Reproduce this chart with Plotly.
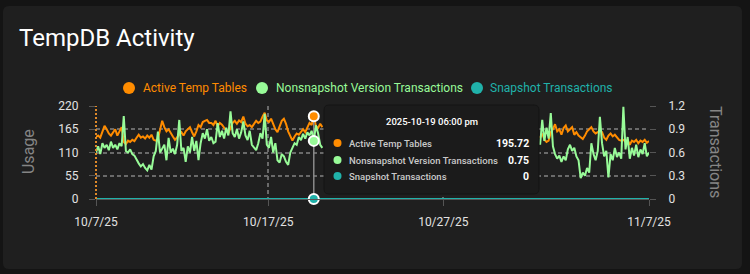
import pandas as pd
import plotly.graph_objects as go

# ---------------- data ----------------
chart_title = "TempDB Activity"
series_names = ["Active Temp Tables", "Nonsnapshot Version Transactions", "Snapshot Transactions"]
series_colors = ["#FF8C00", "#98FB98", "#20B2AA"]
left_axis_title = "Usage"
right_axis_title = "Transactions"

start_time = "2025-10-07 00:00"
step = "3h"
n_points = 260

# Active Temp Tables (Usage) – first visible stretch (10/7 .. 10/20)
active_seg1 = [147, 150, 145, 160, 173, 165, 155, 150, 158, 165,
               150, 160, 170, 135, 130, 138, 135, 140, 137, 145,
               152, 145, 148, 143, 150, 145, 152, 140, 138, 142,
               165, 185, 170, 160, 165, 155, 148, 140, 145, 152,
               158, 150, 160, 165, 170, 158, 148, 160, 175, 170,
               182, 185, 187, 180, 180, 175, 185, 172, 180, 176,
               168, 160, 155, 168, 180, 185, 178, 186, 182, 195,
               178, 172, 175, 170, 178, 185, 180, 183, 195, 204,
               186, 182, 190, 176, 165, 158, 170, 185, 190, 178,
               160, 150, 138, 148, 155, 152, 160, 165, 158, 170,
               180, 175, 195.72, 172, 168, 178, 170]
# hidden behind the tooltip
hidden_len = 101
# second visible stretch (11/1 .. 11/8)
active_seg2 = [145, 155, 140, 135, 138, 158, 165, 177, 160, 165,
               152, 168, 174, 160, 165, 170, 152, 158, 150, 145,
               142, 150, 160, 165, 170, 160, 155, 158, 162, 158,
               145, 140, 150, 155, 148, 152, 145, 140, 138, 140,
               135, 140, 128, 138, 135, 140, 132, 138, 135, 140,
               133, 137]

# Nonsnapshot Version Transactions (Transactions)
nonsnap_seg1 = [0.60, 0.68, 0.58, 0.72, 0.66, 0.70, 0.63, 0.74, 0.66, 0.70,
                0.64, 0.72, 0.68, 1.07, 0.62, 0.60, 0.64, 0.58, 0.56, 0.50,
                0.46, 0.42, 0.45, 0.40, 0.37, 0.44, 0.38, 0.55, 0.62, 0.87,
                0.60, 0.65, 0.70, 0.50, 0.79, 0.60, 0.65, 0.58, 0.70, 1.02,
                0.62, 0.66, 0.48, 0.68, 0.60, 0.80, 0.62, 0.75, 0.50, 0.72,
                0.85, 0.78, 0.90, 0.75, 0.80, 0.72, 0.74, 0.98, 0.80, 0.88,
                0.78, 0.92, 0.82, 1.13, 0.85, 0.80, 0.90, 0.78, 0.86, 1.00,
                0.82, 0.76, 0.88, 0.70, 0.66, 0.63, 0.72, 0.85, 0.78, 1.10,
                0.70, 0.66, 0.80, 0.60, 0.72, 0.50, 0.47, 0.58, 0.55, 0.48,
                0.44, 0.60, 0.66, 0.72, 0.70, 0.80, 0.76, 0.84, 0.78, 0.86,
                0.82, 0.88, 0.75, 0.95, 0.85, 0.70, 0.66]
nonsnap_seg2 = [0.70, 1.02, 0.75, 0.92, 0.78, 1.11, 0.68, 0.58, 0.52, 0.56,
                0.48, 0.55, 0.50, 0.64, 0.70, 0.62, 0.66, 0.55, 0.50, 0.27,
                0.34, 0.30, 0.40, 0.34, 0.72, 0.58, 0.50, 0.62, 1.06, 0.72,
                0.55, 0.62, 0.28, 0.58, 0.50, 0.66, 0.54, 0.60, 0.52, 1.19,
                0.64, 0.80, 0.52, 0.66, 0.56, 0.70, 0.54, 0.64, 0.58, 0.72,
                0.55, 0.60]

snapshot_values = [0] * n_points

hover_index = 102
hover_label = "2025-10-19 06:00 pm"

y_ticks = [0, 55, 110, 165, 220]
y2_ticks = [0, 0.3, 0.6, 0.9, 1.2]
y2_ticktext = ["0", "0.3", "0.6", "0.9", "1.2"]
x_tickvals = ["2025-10-07 00:00", "2025-10-17 02:00", "2025-10-27 08:00", "2025-11-08 09:00"]
x_ticktext = ["10/7/25", "10/17/25", "10/27/25", "11/7/25"]

# ---------------- build ----------------
times = pd.date_range(start_time, periods=n_points, freq=step)
active = active_seg1 + [None] * hidden_len + active_seg2
nonsnap = nonsnap_seg1 + [None] * hidden_len + nonsnap_seg2

W, H = 750, 274
PL, PR, PT, PB = 96, 649, 106, 199
PW, PH = PR - PL, PB - PT


def px(x):
    return (x - PL) / PW


def py(y):
    return (PB - y) / PH


def rrect(x0, y0, x1, y1, r):
    def P(x, y):
        return f"{px(x):.5f},{py(y):.5f}"
    return (f"M {P(x0 + r, y0)} L {P(x1 - r, y0)} Q {P(x1, y0)} {P(x1, y0 + r)} "
            f"L {P(x1, y1 - r)} Q {P(x1, y1)} {P(x1 - r, y1)} L {P(x0 + r, y1)} "
            f"Q {P(x0, y1)} {P(x0, y1 - r)} L {P(x0, y0 + r)} Q {P(x0, y0)} {P(x0 + r, y0)} Z")


fig = go.Figure()
fig.add_trace(go.Scatter(x=times, y=active, mode="lines", name=series_names[0],
                         line=dict(color=series_colors[0], width=2), yaxis="y",
                         connectgaps=False, showlegend=False))
fig.add_trace(go.Scatter(x=times, y=nonsnap, mode="lines", name=series_names[1],
                         line=dict(color=series_colors[1], width=2), yaxis="y2",
                         connectgaps=False, showlegend=False))
fig.add_trace(go.Scatter(x=times, y=snapshot_values, mode="lines", name=series_names[2],
                         line=dict(color=series_colors[2], width=2), yaxis="y2",
                         showlegend=False))

ht = times[hover_index]
hv = [active[hover_index], nonsnap[hover_index], snapshot_values[hover_index]]

# crosshair
fig.add_trace(go.Scatter(x=[ht, ht], y=[0, hv[0]], mode="lines",
                         line=dict(color="#8a8a8a", width=1.5), yaxis="y",
                         showlegend=False, hoverinfo="skip"))
for k, ax in enumerate(["y", "y2", "y2"]):
    fig.add_trace(go.Scatter(x=[ht], y=[hv[k]], mode="markers", yaxis=ax,
                             marker=dict(size=10, color=series_colors[k],
                                         line=dict(color="white", width=2)),
                             cliponaxis=False, showlegend=False, hoverinfo="skip"))

grid = "#6a6a6a"
tickc = "#e2e2e2"
fig.update_layout(
    width=W, height=H,
    margin=dict(l=PL, r=W - PR, t=PT, b=H - PB),
    paper_bgcolor="#141414",
    plot_bgcolor="rgba(0,0,0,0)",
    font=dict(family="Roboto", color=tickc, size=12),
    showlegend=False,
    xaxis=dict(type="date", range=[times[0], times[-1]],
               tickvals=x_tickvals, ticktext=x_ticktext,
               showgrid=True, gridcolor=grid, griddash="4px,3px", gridwidth=1.5,
               ticks="outside", ticklen=6, tickcolor="#555", tickwidth=1,
               showline=True, linecolor="#555", linewidth=1,
               zeroline=False, tickfont=dict(size=12, color=tickc),
               ticklabelstandoff=6),
    yaxis=dict(range=[0, 220], tickvals=y_ticks,
               showgrid=True, gridcolor=grid, griddash="4px,3px", gridwidth=1.5,
               ticks="outside", ticklen=6, tickcolor="#555",
               zeroline=False, showline=False,
               tickfont=dict(size=12, color=tickc), ticklabelstandoff=8),
    yaxis2=dict(range=[0, 1.2], tickvals=y2_ticks, ticktext=y2_ticktext,
                overlaying="y", side="right", showgrid=False, zeroline=False,
                ticks="outside", ticklen=6, tickcolor="#555",
                tickfont=dict(size=12, color=tickc), ticklabelstandoff=10),
)

shapes = []
# card
shapes.append(dict(type="path", xref="paper", yref="paper", layer="below",
                   path=rrect(3, 6, 742, 269, 6), fillcolor="#1f1f1f", line=dict(width=0)))
# left axis (orange dashed)
shapes.append(dict(type="line", xref="paper", yref="paper", x0=0, x1=0, y0=0, y1=1,
                   line=dict(color="#e08a2a", width=2, dash="2px,2px"), layer="above"))
# tooltip box
shapes.append(dict(type="path", xref="paper", yref="paper", layer="above",
                   path=rrect(324, 105, 539, 194, 5), fillcolor="#1b1b1b",
                   line=dict(color="#151515", width=1)))

annotations = []
# title
annotations.append(dict(xref="paper", yref="paper", x=px(17), y=py(38), xanchor="left",
                        yanchor="middle", text=chart_title, showarrow=False,
                        font=dict(size=24, color="#ffffff", family="Roboto")))
# legend
leg_marker_x = [129, 262, 477]
leg_text_x = [141, 274, 488]
for k in range(3):
    shapes.append(dict(type="circle", xref="paper", yref="paper",
                       x0=px(leg_marker_x[k] - 6), x1=px(leg_marker_x[k] + 6),
                       y0=py(88 + 6), y1=py(88 - 6), fillcolor=series_colors[k],
                       line=dict(width=0)))
    annotations.append(dict(xref="paper", yref="paper", x=px(leg_text_x[k]), y=py(88),
                            xanchor="left", yanchor="middle", text=series_names[k],
                            showarrow=False, font=dict(size=12, color=series_colors[k])))
# axis titles
annotations.append(dict(xref="paper", yref="paper", x=px(28), y=py(152), text=left_axis_title,
                        textangle=-90, showarrow=False, xanchor="center", yanchor="middle",
                        font=dict(size=16, color="#858585")))
annotations.append(dict(xref="paper", yref="paper", x=px(716), y=py(152), text=right_axis_title,
                        textangle=90, showarrow=False, xanchor="center", yanchor="middle",
                        font=dict(size=16, color="#858585")))
# tooltip contents
annotations.append(dict(xref="paper", yref="paper", x=px(432), y=py(121), text=hover_label,
                        showarrow=False, xanchor="center", yanchor="middle",
                        font=dict(size=9.5, color="#ffffff", weight=500)))
row_y = [143, 160, 176]
hover_text = [f"{hv[0]:.2f}", f"{hv[1]:g}", f"{hv[2]:g}"]
for k in range(3):
    shapes.append(dict(type="circle", xref="paper", yref="paper", layer="above",
                       x0=px(337.5 - 4), x1=px(337.5 + 4),
                       y0=py(row_y[k] + 4), y1=py(row_y[k] - 4),
                       fillcolor=series_colors[k], line=dict(width=0)))
    annotations.append(dict(xref="paper", yref="paper", x=px(347), y=py(row_y[k]),
                            xanchor="left", yanchor="middle", text=series_names[k],
                            showarrow=False, font=dict(size=9.5, color="#c9c9c9", weight=500)))
    annotations.append(dict(xref="paper", yref="paper", x=px(531), y=py(row_y[k]),
                            xanchor="right", yanchor="middle", text=hover_text[k],
                            showarrow=False, font=dict(size=10.5, color="#ffffff", weight=700)))

fig.update_layout(shapes=shapes, annotations=annotations)
fig.write_html("out.html")
